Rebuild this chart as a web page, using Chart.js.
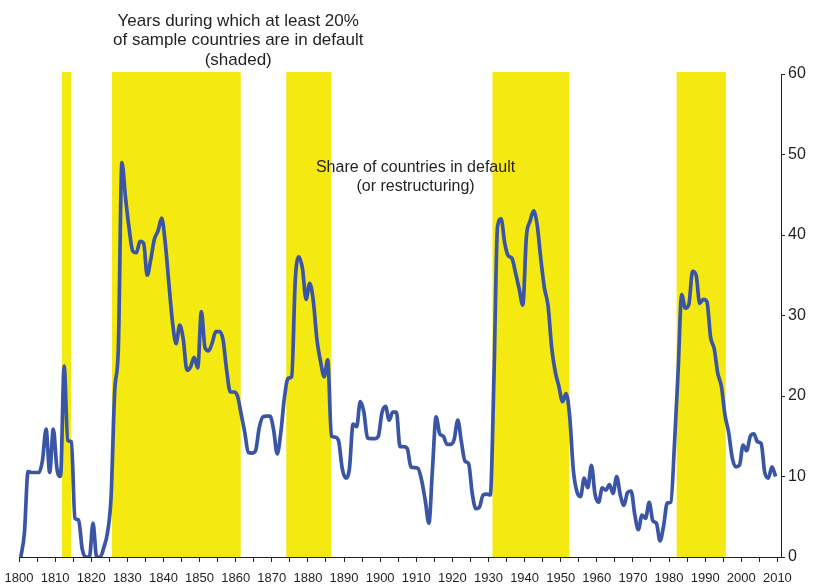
<!DOCTYPE html>
<html>
<head>
<meta charset="utf-8">
<script src="https://cdn.jsdelivr.net/npm/chart.js@4.4.1/dist/chart.umd.min.js"></script>
<style>
  body { margin: 0; background: #fff; }
</style>
</head>
<body>
<canvas id="myChart1" width="814" height="587"></canvas>
<script>
// share of countries in default, one value per year starting 1800
const firstYear = 1800;
const share = [
    0, 3, 10.6, 10.5, 10.5, 10.5, 12, 15.9, 10.5, 15.9,          // 1800s
    11, 10, 23.7, 14.5, 14.3, 4.8, 4.6, 1, 0, 0,                  // 1810s
    4.2, 0, 0, 1.2, 3, 7.5, 20.6, 25.8, 49, 44.6,                // 1820s
    40.8, 38, 37.8, 39.2, 39, 35, 37, 39.5, 40.5, 42.1,          // 1830s
    39, 34, 29.2, 26.5, 28.8, 27, 23.2, 23.6, 24.8, 23.5,        // 1840s
    30.5, 26, 25.6, 26.6, 28, 28, 27, 23.2, 20.5, 20.5,          // 1850s
    20, 17.8, 15.5, 13, 12.9, 13.2, 16, 17.4, 17.5, 17.5,        // 1860s
    15.8, 12.8, 15.5, 19.8, 22.2, 22.4, 34.4, 37.3, 35.8, 32,    // 1870s
    34, 31.8, 27, 24.3, 22.4, 24.5, 15, 14.9, 14.4, 11,          // 1880s
    9.8, 11, 16.5, 16.2, 19.3, 18, 14.8, 14.7, 14.7, 15,         // 1890s
    17.9, 18.7, 17, 18, 18, 13.7, 13.7, 13.5, 11.2, 11.1,        // 1900s
    11, 9.5, 7, 4.2, 11, 17.4, 15.3, 15, 14, 14,                 // 1910s
    14.6, 17, 14.3, 11.9, 11.6, 7.9, 6, 6.2, 7.7, 7.8,           // 1920s
    7.7, 22, 41, 42, 39, 37.4, 37.1, 35.3, 33.3, 31.3,           // 1930s
    39.8, 41.7, 43, 41.2, 37, 33.4, 31.2, 26, 23, 21.2,          // 1940s
    19.3, 20.3, 17.4, 10.8, 8.1, 7.5, 9.8, 8.6, 11.4, 7.8,       // 1950s
    6.8, 8.6, 8.3, 9, 7.9, 10, 7.7, 6.4, 8, 8.2,                 // 1960s
    5.3, 3.4, 5.2, 4.8, 6.8, 4.5, 4.2, 2, 3.9, 6.7,              // 1970s
    6.8, 14, 23, 32.6, 30.9, 31.4, 35.5, 35, 31.5, 32,           // 1980s
    31.7, 27.3, 25.9, 22.8, 21.2, 17.6, 15.5, 12.3, 11.2, 11.4,  // 1990s
    13.9, 13.2, 15, 15.3, 14.3, 14.1, 10.5, 9.8, 11.2, 10        // 2000s
];

// years during which at least 20% of countries are in default
const bandStart = [1811.9, 1825.7, 1874.0, 1931.1, 1982.1];
const bandEnd = [1814.4, 1861.4, 1886.5, 1952.4, 1995.7];

const yTicks = [0, 10, 20, 30, 40, 50, 60];

const topNote = ['Years during which at least 20%', 'of sample countries are in default', '(shaded)'];
const lineNote = ['Share of countries in default', '(or restructuring)'];

const blue = '#3a55a6';
const yellow = '#f5e912';
const ink = '#231f20';
const font = "'Liberation Sans', Arial, sans-serif";

// each annual value sits in the middle of its year
const points = share.map(function(v, i) {
    return { x: firstYear + i + 0.5, y: v };
});

const bands = {
    id: 'bands',
    beforeDraw: function(chart) {
        const c = chart.ctx;
        const xs = chart.scales.x;
        const area = chart.chartArea;
        c.save();
        c.fillStyle = yellow;
        for (let i = 0; i < bandStart.length; i++) {
            const x1 = xs.getPixelForValue(bandStart[i]);
            const x2 = xs.getPixelForValue(bandEnd[i]);
            c.fillRect(x1, area.top - 2, x2 - x1, area.bottom - area.top + 2);
        }
        c.restore();
    }
};

const notes = {
    id: 'notes',
    afterDraw: function(chart) {
        const c = chart.ctx;
        const xs = chart.scales.x;
        const ys = chart.scales.y;
        c.save();
        c.fillStyle = ink;
        c.textAlign = 'center';
        c.textBaseline = 'middle';
        c.font = '17px ' + font;
        let x = xs.getPixelForValue(1860.7);
        let y = ys.getPixelForValue(66.6);
        topNote.forEach(function(t, i) { c.fillText(t, x, y + i * 19.5); });
        c.font = '16px ' + font;
        x = xs.getPixelForValue(1909.8);
        y = ys.getPixelForValue(48.4);
        lineNote.forEach(function(t, i) { c.fillText(t, x, y + i * 19); });
        c.restore();
    }
};

const ctx = document.getElementById('myChart1').getContext('2d');

const myChart = new Chart(ctx, {
    type: 'line',
    data: {
        datasets: [{
            label: 'Share of countries in default',
            data: points,
            borderColor: blue,
            borderWidth: 3.7,
            pointRadius: 0,
            cubicInterpolationMode: 'monotone',
            fill: false
        }]
    },
    options: {
        responsive: false,
        animation: false,
        layout: { padding: { left: 19, top: 74, right: 0, bottom: 0 } },
        plugins: {
            legend: { display: false },
            tooltip: { enabled: false }
        },
        scales: {
            x: {
                type: 'linear',
                min: 1800,
                max: 2011,
                afterFit: function(s) {
                    s.height = 30;
                    s.paddingLeft = 0;
                    s.paddingRight = 0;
                },
                grid: { drawOnChartArea: false, tickLength: 5, color: ink },
                border: { display: true, color: ink, width: 1 },
                ticks: {
                    stepSize: 5,
                    includeBounds: false,
                    maxRotation: 0,
                    autoSkip: false,
                    padding: 9,
                    color: ink,
                    font: { family: font, size: 13 },
                    callback: function(v) { return v % 10 === 0 ? String(v) : ''; }
                }
            },
            y: {
                position: 'right',
                min: 0,
                max: 60,
                afterFit: function(s) {
                    s.width = 33;
                    s.paddingTop = 0;
                    s.paddingBottom = 0;
                },
                afterBuildTicks: function(s) { s.ticks = yTicks.map(function(v) { return { value: v }; }); },
                grid: { drawOnChartArea: false, tickLength: 4, color: ink },
                border: { display: true, color: ink, width: 1 },
                ticks: {
                    padding: 3,
                    color: ink,
                    font: { family: font, size: 16 }
                }
            }
        }
    },
    plugins: [bands, notes]
});
</script>
</body>
</html>
